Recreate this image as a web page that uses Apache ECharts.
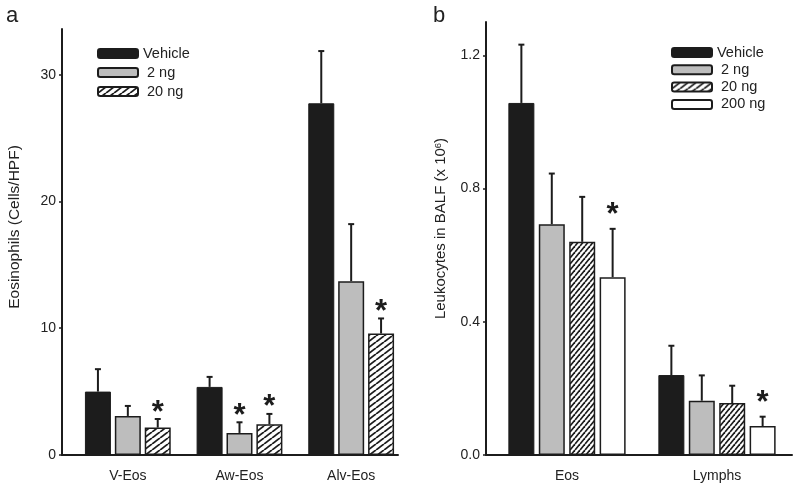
<!DOCTYPE html>
<html>
<head>
<meta charset="utf-8">
<script src="https://cdn.jsdelivr.net/npm/echarts@6/dist/echarts.min.js"></script>
<style>html,body{margin:0;padding:0;background:#fff}#c{width:800px;height:490px}</style>
</head>
<body>
<div id="c"></div>
<script>
// ---------- Panel a data ----------
const categoriesA = ['V-Eos', 'Aw-Eos', 'Alv-Eos'];
const ticksA = [0, 10, 20, 30];
const vehicleA = [5.0, 5.37, 27.74];
const vehicleErrA = [1.77, 0.79, 4.12];
const ng2A = [3.08, 1.74, 13.71];
const ng2ErrA = [0.79, 0.84, 4.5];
const ng20A = [2.16, 2.42, 9.58];
const ng20ErrA = [0.68, 0.82, 1.19];
const starsVehicleA = [0, 0, 0];
const starsNg2A = [0, 1, 0];
const starsNg20A = [1, 1, 1];

// ---------- Panel b data ----------
const categoriesB = ['Eos', 'Lymphs'];
const ticksB = [0, 0.4, 0.8, 1.2];
const vehicleB = [1.057, 0.24];
const vehicleErrB = [0.175, 0.088];
const ng2B = [0.693, 0.163];
const ng2ErrB = [0.152, 0.076];
const ng20B = [0.64, 0.156];
const ng20ErrB = [0.135, 0.052];
const ng200B = [0.534, 0.087];
const ng200ErrB = [0.145, 0.028];
const starsVehicleB = [0, 0];
const starsNg2B = [0, 0];
const starsNg20B = [0, 0];
const starsNg200B = [1, 1];

const legendNamesA = ['Vehicle', '2 ng', '20 ng'];
const legendNamesB = ['Vehicle', '2 ng', '20 ng', '200 ng'];

// ---------- styles ----------
const INK = '#1c1c1c';
function hatch(w, h, lw) {
  const c = document.createElement('canvas');
  c.width = w; c.height = h;
  const g = c.getContext('2d');
  g.fillStyle = '#fff'; g.fillRect(0, 0, w, h);
  g.strokeStyle = INK; g.lineWidth = lw;
  for (const dx of [-w, 0, w]) {
    g.beginPath(); g.moveTo(dx, h); g.lineTo(dx + w, 0); g.stroke();
  }
  return { image: c, repeat: 'repeat' };
}
const hatchA = hatch(8, 6, 1.8);
const hatchB = hatch(5, 6, 1.7);

const styleVehicle = { color: INK, borderColor: INK, borderWidth: 1 };
const styleNg2 = { color: '#bdbdbd', borderColor: INK, borderWidth: 1.5 };
const styleNg20A = { color: hatchA, borderColor: INK, borderWidth: 1.5 };
const styleNg20B = { color: hatchB, borderColor: INK, borderWidth: 1.5 };
const styleNg200 = { color: '#ffffff', borderColor: INK, borderWidth: 1.5 };

const BW = 26;
const GAP_A = 0.15, GAP_B = 0.17;

function errRenderer(offset, starGap) {
  return function (params, api) {
    const i = api.value(0), m = api.value(1), e = api.value(2), s = api.value(3);
    const b = api.coord([i, m]);
    const t = api.coord([i, m + e]);
    const x = b[0] + offset;
    const ch = [
      { type: 'line', shape: { x1: x, y1: b[1], x2: x, y2: t[1] }, style: { stroke: INK, lineWidth: 2 } },
      { type: 'line', shape: { x1: x - 3, y1: t[1], x2: x + 3, y2: t[1] }, style: { stroke: INK, lineWidth: 2 } }
    ];
    if (s) {
      ch.push({ type: 'text', style: { text: '*', x: x, y: t[1] - starGap, align: 'center', verticalAlign: 'middle',
        font: 'bold 31px "Liberation Sans"', fill: INK } });
    }
    return { type: 'group', children: ch };
  };
}

function makePanel(xi, yi, names, means, errs, stars, styles, gap, starGap) {
  const n = names.length;
  const out = [];
  names.forEach((nm, k) => {
    out.push({
      name: nm, type: 'bar', xAxisIndex: xi, yAxisIndex: yi,
      barWidth: BW, barGap: (gap * 100) + '%',
      itemStyle: styles[k], data: means[k], z: 2,
      emphasis: { disabled: true }
    });
    const offset = (k - (n - 1) / 2) * BW * (1 + gap);
    out.push({
      type: 'custom', name: 'err-' + nm + '-' + xi, xAxisIndex: xi, yAxisIndex: yi, z: 3,
      renderItem: errRenderer(offset, starGap),
      encode: { x: 0, y: 1 },
      data: means[k].map((v, i) => [i, v, errs[k][i], stars[k][i]])
    });
  });
  return out;
}

const series = [].concat(
  makePanel(1, 1, legendNamesA, [vehicleA, ng2A, ng20A], [vehicleErrA, ng2ErrA, ng20ErrA],
    [starsVehicleA, starsNg2A, starsNg20A], [styleVehicle, styleNg2, styleNg20A], GAP_A, 6),
  makePanel(3, 3, legendNamesB, [vehicleB, ng2B, ng20B, ng200B], [vehicleErrB, ng2ErrB, ng20ErrB, ng200ErrB],
    [starsVehicleB, starsNg2B, starsNg20B, starsNg200B], [styleVehicle, styleNg2, styleNg20B, styleNg200], GAP_B, 13)
);

const axisLineStyle = { color: INK, width: 2 };
const txt = { color: '#222', fontSize: 14, fontFamily: 'Liberation Sans' };

const option = {
  backgroundColor: '#ffffff',
  animation: false,
  textStyle: { fontFamily: 'Liberation Sans', color: '#222' },
  title: [
    { text: 'a', left: 6, top: 5, padding: 0, textStyle: { fontSize: 22, fontWeight: 'normal', color: '#222' } },
    { text: 'b', left: 433, top: 5, padding: 0, textStyle: { fontSize: 22, fontWeight: 'normal', color: '#222' } }
  ],
  legend: [
    { data: legendNamesA, orient: 'vertical', left: 92, top: 41, itemWidth: 40, itemHeight: 9, itemGap: 4,
      icon: 'roundRect', selectedMode: false,
      formatter: nm => nm === 'Vehicle' ? nm : ' ' + nm,
      textStyle: { fontSize: 14.5, lineHeight: 14, color: '#222' } },
    { data: legendNamesB, orient: 'vertical', left: 666, top: 40, itemWidth: 40, itemHeight: 9, itemGap: 2.3,
      icon: 'roundRect', selectedMode: false,
      formatter: nm => nm === 'Vehicle' ? nm : ' ' + nm,
      textStyle: { fontSize: 14.5, lineHeight: 14, color: '#222' } }
  ],
  grid: [
    { left: 62, right: 402, top: 29, bottom: 35 },
    { left: 72, right: 393, top: 29, bottom: 35 },
    { left: 486, right: 8, top: 22, bottom: 35 },
    { left: 492, right: 8, top: 22, bottom: 35 }
  ],
  xAxis: [
    { gridIndex: 0, type: 'value', min: 0, max: 1, axisLine: { lineStyle: axisLineStyle }, axisTick: { show: false },
      axisLabel: { show: false }, splitLine: { show: false } },
    { gridIndex: 1, type: 'category', data: categoriesA, axisLine: { show: false },
      axisTick: { alignWithLabel: true, length: 4, lineStyle: { color: INK, width: 1.5 } },
      axisLabel: Object.assign({ margin: 14 }, txt) },
    { gridIndex: 2, type: 'value', min: 0, max: 1, axisLine: { lineStyle: axisLineStyle }, axisTick: { show: false },
      axisLabel: { show: false }, splitLine: { show: false } },
    { gridIndex: 3, type: 'category', data: categoriesB, axisLine: { show: false },
      axisTick: { alignWithLabel: true, length: 4, lineStyle: { color: INK, width: 1.5 } },
      axisLabel: Object.assign({ margin: 14 }, txt) }
  ],
  yAxis: [
    { gridIndex: 0, type: 'value', min: 0, max: 33.6, splitLine: { show: false },
      axisLine: { show: true, lineStyle: axisLineStyle },
      axisTick: { show: true, length: 3, customValues: ticksA, lineStyle: { color: INK, width: 1.5 } },
      axisLabel: Object.assign({ margin: 6, customValues: ticksA }, txt),
      name: 'Eosinophils (Cells/HPF)', nameLocation: 'middle', nameGap: 39,
      nameTextStyle: { fontSize: 15.5, color: '#222', padding: [0, 0, 0, 30] } },
    { gridIndex: 1, type: 'value', min: 0, max: 33.6, show: false },
    { gridIndex: 2, type: 'value', min: 0, max: 1.3, splitLine: { show: false },
      axisLine: { show: true, lineStyle: axisLineStyle },
      axisTick: { show: true, length: 3, customValues: ticksB, lineStyle: { color: INK, width: 1.5 } },
      axisLabel: Object.assign({ margin: 6, customValues: ticksB, formatter: v => v.toFixed(1) }, txt),
      name: 'Leukocytes in BALF (x 10{sup|6})', nameLocation: 'middle', nameGap: 38,
      nameTextStyle: { fontSize: 15, color: '#222', padding: [0, 0, 0, 20],
        rich: { sup: { fontSize: 9.5, verticalAlign: 'top', color: '#222' } } } },
    { gridIndex: 3, type: 'value', min: 0, max: 1.3, show: false }
  ],
  series: series
};

const chart = echarts.init(document.getElementById('c'), null, { renderer: 'canvas' });
chart.setOption(option);
</script>
</body>
</html>
